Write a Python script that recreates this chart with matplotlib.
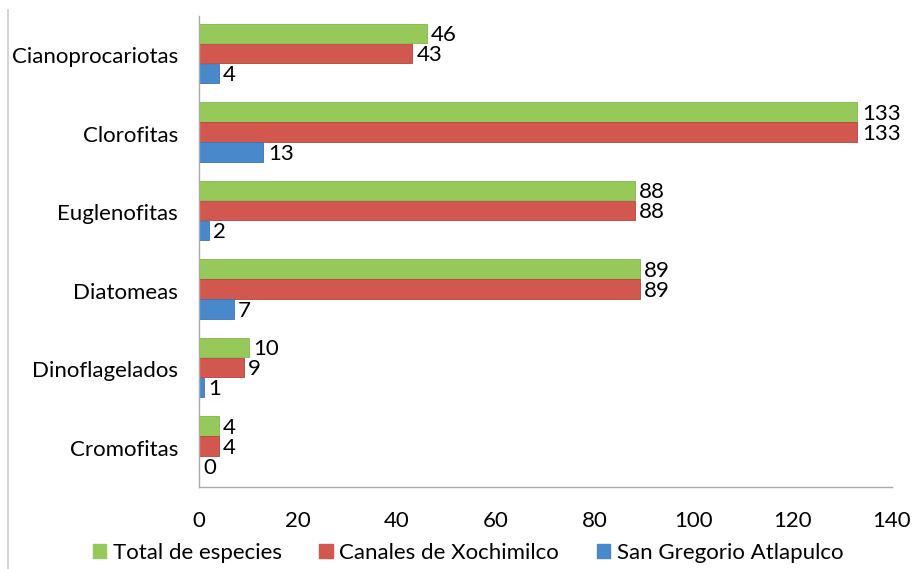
import matplotlib
matplotlib.use("Agg")
import matplotlib.pyplot as plt
import numpy as np
from matplotlib.lines import Line2D

categories = ["Cianoprocariotas", "Clorofitas", "Euglenofitas", "Diatomeas", "Dinoflagelados", "Cromofitas"]
total = [46, 133, 88, 89, 10, 4]
xochimilco = [43, 133, 88, 89, 9, 4]
atlapulco = [4, 13, 2, 7, 1, 0]
series_names = ["Total de especies", "Canales de Xochimilco", "San Gregorio Atlapulco"]
colors = ["#96c85a", "#d2584f", "#4a88cc"]
edges = ["#86b24e", "#b2463f", "#3d74b0"]

plt.rcParams['font.family'] = ['Lato', 'DejaVu Sans']

fig = plt.figure(figsize=(9.14, 5.69), dpi=100)
ax = fig.add_axes([199/914, 1-487/569, (892-199)/914, (487-16)/569])

n = len(categories)
y = np.arange(n)[::-1].astype(float)
h = 0.255
data = [total, xochimilco, atlapulco]
offs = [h, 0, -h]
for vals, c, ec, off, name in zip(data, colors, edges, offs, series_names):
    bars = ax.barh(y + off + 0.02, vals, height=h*0.97, color=c, edgecolor=ec, linewidth=0.6, label=name)
    for b, v in zip(bars, vals):
        ax.text(v + 0.9, b.get_y() + b.get_height()/2 - 0.02, str(v), va='center', ha='left', fontsize=16, color='black')

ax.set_xlim(0, 140)
ax.set_ylim(-0.5, n - 0.5)
ax.set_xticks(np.arange(0, 141, 20))
ax.set_yticks(y)
ax.set_yticklabels(categories)
ax.tick_params(axis='both', length=0, labelsize=16, colors='black')
ax.tick_params(axis='x', pad=17)
ax.tick_params(axis='y', pad=15)
for s in ['top', 'right']:
    ax.spines[s].set_visible(False)
for s in ['left', 'bottom']:
    ax.spines[s].set_color('#aaaaaa')
    ax.spines[s].set_linewidth(1.0)

fig.add_artist(Line2D([8/914, 8/914], [0, 1-10/569], transform=fig.transFigure, color='#cccccc', linewidth=1.2))

handles = [plt.Rectangle((0, 0), 1, 1, color=c) for c in colors]
fig.legend(handles, series_names, loc='center', bbox_to_anchor=(468/914, 1-553/569), ncol=3,
           frameon=False, fontsize=16, handlelength=0.6, handleheight=0.6, handletextpad=0.3, columnspacing=1.7)

fig.savefig("out.png", dpi=100)
